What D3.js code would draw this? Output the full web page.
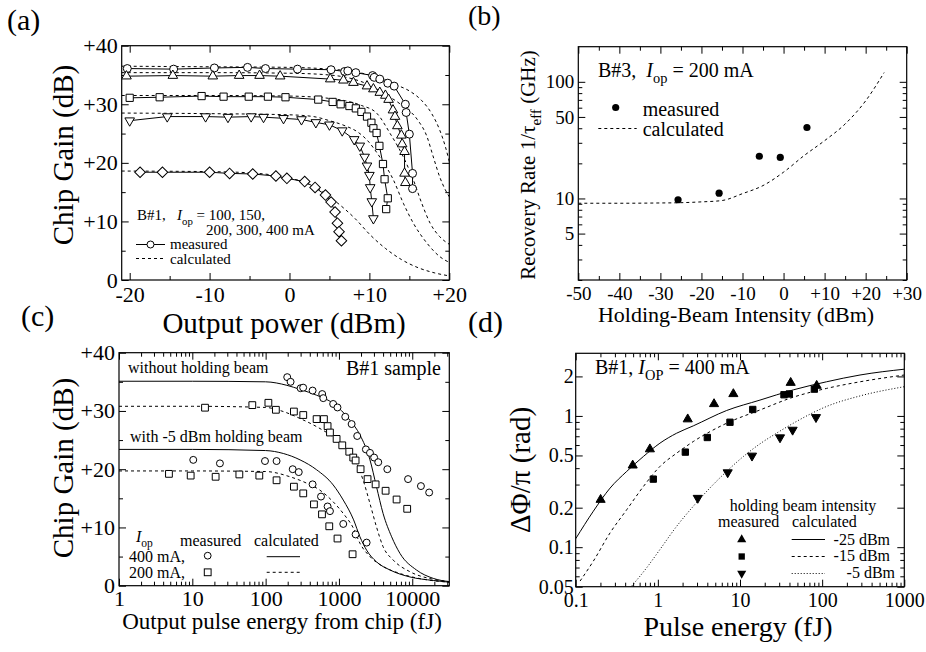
<!DOCTYPE html>
<html>
<head>
<meta charset="utf-8">
<script src="https://cdn.jsdelivr.net/npm/d3@7"></script>
<style>
body { margin: 0; background: #fff; }
svg { font-family: "Liberation Serif", "Times New Roman", serif; }
text { fill: #000; white-space: pre; }
</style>
</head>
<body>
<svg id="fig" width="926" height="652"></svg>
<script>
// ---- (a) chip gain vs output power (dBm -> dB), B#1 at 100..400 mA ----
var aMeas400 = [[-20.3,36.1],[-14.5,36.0],[-9.4,36.2],[-5.25,36.3],[-3.0,36.1],[1.0,36.0],[5.2,35.9],[6.9,35.6],[7.3,35.7],[8.3,35.4],[10.4,34.9],[10.6,34.6],[11.3,34.3],[12.3,33.6],[13.1,33.1],[14.5,30.0],[14.6,28.6],[15.0,24.9],[15.4,18.2],[15.4,15.6]];
var aMeas300 = [[-20.4,34.8],[-14.6,34.9],[-9.6,34.8],[-6.3,34.9],[-3.75,34.9],[-1.17,34.8],[5.1,34.3],[6.75,34.1],[8.0,33.7],[9.7,33.1],[10.5,32.6],[11.3,32.0],[12.0,31.5],[12.4,30.8],[12.95,29.0],[13.2,27.9],[13.5,26.3],[14.0,24.7],[14.1,23.2],[14.4,21.9],[14.4,18.2],[14.5,16.6]];
var aMeas200 = [[-20.0,31.1],[-16.25,31.2],[-11.0,31.4],[-8.25,31.3],[-5.1,31.3],[-2.7,31.3],[-0.5,31.2],[3.6,30.8],[5.4,30.4],[6.4,30.0],[7.5,29.7],[8.3,29.3],[9.0,28.7],[9.7,27.9],[10.25,26.85],[10.5,25.9],[10.9,25.1],[11.25,22.9],[11.7,19.8],[11.9,17.2],[12.3,13.95],[12.1,12.1]];
var aMeas150 = [[-20.0,27.2],[-15.3,27.9],[-10.5,27.9],[-7.7,27.8],[-4.8,27.9],[-3.25,27.8],[-0.75,27.6],[1.5,27.4],[3.3,26.9],[5.0,26.5],[6.6,25.5],[8.1,24.0],[8.8,22.9],[9.4,21.0],[9.7,19.5],[10.0,17.9],[10.1,15.8],[10.3,13.4],[10.5,10.5]];
var aMeas100 = [[-18.7,18.4],[-15.9,18.4],[-10.0,18.4],[-7.5,18.2],[-4.6,18.1],[-1.7,17.75],[-0.33,17.35],[1.9,16.8],[3.2,15.8],[4.5,14.5],[5.2,13.3],[5.7,11.6],[6.0,9.7],[6.2,8.25],[6.5,6.7]];
var aCalc400 = [[-21,36.5],[-10,36.4],[0,36.3],[5,36.0],[8,35.6],[10,35.0],[12,34.2],[13.4,33.3],[15.1,32.2],[16.5,30.7],[17.8,28.4],[18.8,25.6],[19.5,22.8],[20,20.2]];
var aCalc300 = [[-21,35.4],[-10,35.4],[0,35.3],[5,35.0],[8,34.3],[10,33.3],[12,31.7],[14,29.9],[16,27.4],[17.2,24.5],[18,21.0],[18.8,17.6],[19.5,15.4],[20,14.2]];
var aCalc200 = [[-21,31.5],[-10,31.5],[0,31.4],[5,31.0],[7,30.6],[9,29.8],[10.9,28.5],[12.6,25.0],[14.25,21.0],[15.5,17.1],[16.55,13.1],[17.6,9.7],[18.8,7.4],[20,6.1]];
var aCalc150 = [[-21,28.5],[-10,28.4],[0,28.2],[3,27.9],[5,27.2],[7,26.3],[8.5,25.3],[9.7,23.9],[11.3,21.0],[13.0,17.1],[14.25,13.1],[15.5,9.7],[17.2,6.3],[18.8,4.0],[20,3.0]];
var aCalc100 = [[-21,18.6],[-10,18.5],[-5,18.3],[-2,17.9],[0,17.4],[2,16.6],[4,15.2],[5.5,13.7],[8.2,10.5],[10.1,7.7],[12,5.4],[14,3.5],[16.1,2.1],[18.2,1.2],[20,0.7]];

// ---- (b) recovery rate vs holding-beam intensity ----
var bMeasX = [-25.7, -15.7, -5.9, -0.8, 5.7];
var bMeasY = [9.75, 11.1, 23, 22.5, 40.6];
var bCalc = [[-50,9.1],[-40,9.1],[-30,9.15],[-25,9.2],[-20,9.35],[-15,9.6],[-10,11.0],[-5,12.9],[0,16.8],[5,23.3],[10,31.3],[15,43.5],[20,68.7],[24.5,120]];

// ---- (c) chip gain vs output pulse energy (fJ) ----
var cMeas400 = [[197,35.8],[219,35.0],[300,33.9],[325,34.0],[437,33.5],[591,32.9],[611,32.2],[834,31.2],[955,30.6],[1219,29.0],[1489,27.75],[1775,25.7],[2330,23.4],[2650,22.8],[3020,22.0],[3437,21.2],[4568,20.0],[8760,18.3],[13130,17.1],[17000,16.0]];
var cMeas400h = [[10.3,21.6],[23.8,21.0],[98,21.4],[141,21.4],[234,20.0],[283,19.5],[437,17.4],[569,15.3],[700,13.6],[754,12.8],[1145,10.6],[1687,8.8],[2385,7.4]];
var cMeas200 = [[14.9,30.56],[65.8,31.0],[109,31.4],[138,30.2],[243,29.9],[326,29.3],[496,28.6],[624,28.6],[700,27.4],[754,26.3],[929,25.2],[1110,24.1],[1383,23.0],[1567,22.0],[1687,21.5],[1973,20.0],[2456,18.3],[3162,17.4],[4329,16.3],[6113,14.8],[8530,13.2]];
var cMeas200h = [[4.8,19.2],[9.5,18.9],[20.8,18.7],[43.8,19.1],[82,18.9],[141,18.1],[243,17.0],[326,15.85],[456,13.96],[587,12.25],[738,10.2],[956,8.1],[1535,5.4]];
var cCalc400 = [[1,35.1],[10,35.1],[100,35.0],[195,34.4],[295,33.7],[496,32.7],[834,31.3],[1413,28.4],[1932,25.9],[2650,21.6],[3250,17.0],[4000,12.4],[5230,8.4],[6790,5.55],[11400,2.7],[19300,1.26],[32000,0.7]];
var cCalc200 = [[1,30.8],[10,30.8],[100,30.6],[174,29.9],[295,28.7],[496,27.3],[834,25.5],[1260,23.3],[1740,21.0],[2140,18.1],[2650,14.1],[3250,10.1],[4000,6.7],[5500,4.4],[9300,2.4],[19300,1.1],[32000,0.7]];
var cCalc400h = [[1,23.4],[10,23.4],[100,23.2],[174,22.7],[295,21.6],[496,19.9],[834,17.3],[1145,14.7],[1585,11.3],[1932,8.4],[2385,6.1],[3250,4.1],[4960,2.7],[9300,1.5],[19300,0.9],[32000,0.6]];
var cCalc200h = [[1,19.7],[10,19.7],[100,19.6],[215,18.7],[363,17.6],[550,16.4],[834,14.4],[1145,12.4],[1585,9.8],[1932,7.3],[2650,5.0],[4000,3.3],[6790,2.1],[14300,1.1],[32000,0.6]];

// ---- (d) phase shift vs pulse energy ----
var dMeas25 = [[0.201,0.230],[0.494,0.42],[0.80,0.558],[2.31,0.944],[4.83,1.233],[8.3,1.47],[41.4,1.79],[85.8,1.70]];
var dMeas15 = [[0.88,0.330],[2.16,0.53],[4.0,0.685],[7.55,0.895],[14.3,1.12],[34.3,1.45],[39.8,1.47],[80.4,1.60]];
var dMeas5 = [[3.06,0.237],[7.08,0.371],[14.0,0.497],[30.7,0.685],[43.7,0.783],[84.1,0.977]];
var dCalc25 = [[0.1,0.116],[0.164,0.188],[0.262,0.282],[0.418,0.378],[0.667,0.491],[1.06,0.620],[1.69,0.738],[2.70,0.84],[6.88,1.10],[17.5,1.32],[44.6,1.58],[113,1.82],[289,2.05],[1000,2.27]];
var dCalc15 = [[0.113,0.0552],[0.164,0.0783],[0.262,0.1285],[0.418,0.193],[0.667,0.29],[1.06,0.412],[1.69,0.52],[2.70,0.638],[6.88,0.88],[17.5,1.11],[44.6,1.39],[113,1.62],[289,1.82],[1000,2.05]];
var dCalc5 = [[0.481,0.0506],[0.731,0.0697],[1.06,0.096],[1.69,0.144],[2.70,0.205],[4.29,0.282],[6.88,0.378],[11.0,0.491],[17.5,0.613],[27.8,0.738],[44.6,0.88],[113,1.18],[289,1.42],[1000,1.67]];

var svg = d3.select("#fig");
var decades = function(list, muls) {
  var out = [];
  list.forEach(function(d) { muls.forEach(function(m) { out.push(d * m); }); });
  return out;
};
var signed = function(d) { return d > 0 ? "+" + d : d < 0 ? "-" + Math.abs(d) : "0"; };

function panel(id, left, top, x, y) {
  var g = svg.append("g").attr("transform", "translate(" + left + "," + top + ")");
  g.append("clipPath").attr("id", id).append("rect")
    .attr("width", x.range()[1]).attr("height", y.range()[0]);
  return g;
}

function frame(g, x, y, t) {
  var w = x.range()[1], h = y.range()[0];
  function one(axis, tr, vals, len, fmt, fs, pad) {
    var a = g.append("g").attr("transform", tr)
      .call(axis.tickValues(vals).tickSize(-len).tickPadding(pad || 0)
        .tickFormat(fmt || function() { return ""; }));
    a.select(".domain").remove();
    a.attr("font-family", null).attr("font-size", null);
    a.selectAll("line").attr("stroke", "#000");
    a.selectAll("text").attr("font-size", fs).attr("fill", "#000");
  }
  var bot = "translate(0," + h + ")", rgt = "translate(" + w + ",0)";
  one(d3.axisBottom(x), bot, t.xMaj, 7, t.xFmt, t.fs, t.xPad);
  one(d3.axisBottom(x), bot, t.xMin, 4);
  one(d3.axisTop(x), null, t.xMaj, 7);
  one(d3.axisTop(x), null, t.xMin, 4);
  one(d3.axisLeft(y), null, t.yMaj, 7, t.yFmt, t.fs, t.yPad);
  one(d3.axisLeft(y), null, t.yMin, 4);
  one(d3.axisRight(y), rgt, t.yMaj, 7);
  one(d3.axisRight(y), rgt, t.yMin, 4);
  g.append("rect").attr("width", w).attr("height", h)
    .attr("fill", "none").attr("stroke", "#000").attr("stroke-width", 1.2);
}

function curve(g, data, x, y, dash, clip, smooth) {
  var line = d3.line().x(function(d) { return x(d[0]); }).y(function(d) { return y(d[1]); });
  if (smooth) line.curve(d3.curveMonotoneX);
  g.append("path").datum(data).attr("d", line)
    .attr("fill", "none").attr("stroke", "#000").attr("stroke-width", 1)
    .attr("stroke-dasharray", dash || null)
    .attr("clip-path", clip ? "url(#" + clip + ")" : null);
}

function marks(g, data, x, y, type, size, fill, rot) {
  g.selectAll(null).data(data).enter().append("path")
    .attr("d", d3.symbol(type, size))
    .attr("transform", function(d) {
      return "translate(" + x(d[0]) + "," + y(d[1]) + ")" + (rot ? " rotate(" + rot + ")" : "");
    })
    .attr("fill", fill).attr("stroke", "#000").attr("stroke-width", 1);
}

// text with italic / subscript parts
function label(x, y, parts, fs, anchor, rotate) {
  var t = svg.append("text").attr("font-size", fs).attr("text-anchor", anchor || "start");
  if (rotate) t.attr("transform", "translate(" + x + "," + y + ") rotate(-90)");
  else t.attr("x", x).attr("y", y);
  var shift = 0;
  parts.forEach(function(p) {
    var s = t.append("tspan").text(p[0]);
    var want = 0;
    if (p[1] === "i") s.attr("font-style", "italic");
    if (p[1] === "sub") { s.attr("font-size", fs * 0.72); want = fs * 0.3; }
    if (want !== shift) { s.attr("dy", want - shift); shift = want; }
  });
  return t;
}

var DASH = "3,3", DOT = "1,2";

// =================== (a) ===================
var ax = d3.scaleLinear().domain([-21, 20]).range([0, 327.6]);
var ay = d3.scaleLinear().domain([0, 40]).range([234.3, 0]);
var ga = panel("clipA", 121.7, 45.7, ax, ay);
frame(ga, ax, ay, {
  xMaj: [-20, -10, 0, 10, 20], xMin: [-15, -5, 5, 15], xFmt: signed, xPad: 6,
  yMaj: [0, 10, 20, 30, 40], yMin: [5, 15, 25, 35], yFmt: signed, yPad: 4, fs: 22
});
[aCalc400, aCalc300, aCalc200, aCalc150, aCalc100].forEach(function(c) { curve(ga, c, ax, ay, DASH, "clipA", true); });
[aMeas400, aMeas300, aMeas200, aMeas150, aMeas100].forEach(function(c) { curve(ga, c, ax, ay, null, "clipA"); });
marks(ga, aMeas400, ax, ay, d3.symbolCircle, 50, "#fff");
marks(ga, aMeas300, ax, ay, d3.symbolTriangle, 40, "#fff");
marks(ga, aMeas200, ax, ay, d3.symbolSquare, 52, "#fff");
marks(ga, aMeas150, ax, ay, d3.symbolTriangle, 40, "#fff", 180);
marks(ga, aMeas100, ax, ay, d3.symbolSquare, 56, "#fff", 45);

label(7, 30, [["(a)"]], 30);
label(73, 155, [["Chip Gain (dB)"]], 29, "middle", true);
label(284, 333, [["Output power (dBm)"]], 29, "middle");
label(137, 220, [["B#1,   "], ["I", "i"], ["op", "sub"], [" = 100, 150,"]], 15);
label(206, 235, [["200, 300, 400 mA"]], 15);
svg.append("line").attr("x1", 136).attr("x2", 165).attr("y1", 244.5).attr("y2", 244.5).attr("stroke", "#000");
svg.append("circle").attr("cx", 150.5).attr("cy", 244.5).attr("r", 3.5).attr("fill", "#fff").attr("stroke", "#000");
label(170, 249, [["measured"]], 15);
svg.append("line").attr("x1", 136).attr("x2", 165).attr("y1", 258.5).attr("y2", 258.5).attr("stroke", "#000").attr("stroke-dasharray", DASH);
label(170, 264, [["calculated"]], 15);

// =================== (b) ===================
var bx = d3.scaleLinear().domain([-50, 30]).range([0, 328.4]);
var by = d3.scaleLog().domain([2, 200]).range([233.3, 0]);
var gb = panel("clipB", 578.3, 46.7, bx, by);
frame(gb, bx, by, {
  xMaj: d3.range(-50, 31, 10), xMin: d3.range(-45, 30, 10), xFmt: signed, xPad: 7,
  yMaj: [5, 10, 50, 100], yMin: [2, 3, 4, 6, 7, 8, 9, 20, 30, 40, 60, 70, 80, 90],
  yFmt: function(d) { return d; }, yPad: 4, fs: 19
});
curve(gb, bCalc, bx, by, DASH, "clipB", true);
gb.selectAll(null).data(bMeasX).enter().append("circle")
  .attr("cx", function(d) { return bx(d); })
  .attr("cy", function(d, i) { return by(bMeasY[i]); })
  .attr("r", 3.6).attr("fill", "#000");

label(468, 25, [["(b)"]], 28);
label(535, 165, [["Recovery Rate 1/τ"], ["eff", "sub"], [" (GHz)"]], 21, "middle", true);
label(736, 322, [["Holding-Beam Intensity (dBm)"]], 22, "middle");
label(598, 77, [["B#3,  "], ["I", "i"], ["op", "sub"], [" = 200 mA"]], 20);
svg.append("circle").attr("cx", 615.7).attr("cy", 107.5).attr("r", 3.6).attr("fill", "#000");
label(642.7, 116, [["measured"]], 20);
svg.append("line").attr("x1", 598.3).attr("x2", 636.7).attr("y1", 128.5).attr("y2", 128.5).attr("stroke", "#000").attr("stroke-dasharray", DASH);
label(642.7, 136, [["calculated"]], 20);

// =================== (c) ===================
var cx = d3.scaleLog().domain([1, 32000]).range([0, 330.3]);
var cy = d3.scaleLinear().domain([0, 40]).range([233, 0]);
var gc = panel("clipC", 119, 352.7, cx, cy);
frame(gc, cx, cy, {
  xMaj: [1, 10, 100, 1000, 10000], xMin: decades([1, 10, 100, 1000], [2, 3, 4, 5, 6, 7, 8, 9]).concat([20000, 30000]),
  xFmt: function(d) { return d; }, xPad: 5,
  yMaj: [0, 10, 20, 30, 40], yMin: [5, 15, 25, 35], yFmt: signed, yPad: 4, fs: 22
});
curve(gc, cCalc400, cx, cy, null, "clipC", true);
curve(gc, cCalc200, cx, cy, DASH, "clipC", true);
curve(gc, cCalc400h, cx, cy, null, "clipC", true);
curve(gc, cCalc200h, cx, cy, DASH, "clipC", true);
marks(gc, cMeas400, cx, cy, d3.symbolCircle, 38, "#fff");
marks(gc, cMeas400h, cx, cy, d3.symbolCircle, 38, "#fff");
marks(gc, cMeas200, cx, cy, d3.symbolSquare, 46, "#fff");
marks(gc, cMeas200h, cx, cy, d3.symbolSquare, 46, "#fff");

label(21, 326, [["(c)"]], 30);
label(73, 468, [["Chip Gain (dB)"]], 29, "middle", true);
label(282, 629, [["Output pulse energy from chip (fJ)"]], 23, "middle");
label(128, 373, [["without holding beam"]], 16);
label(130, 442, [["with -5 dBm holding beam"]], 16);
label(441, 375, [["B#1 sample"]], 20, "end");
label(136, 542, [["I", "i"], ["op", "sub"]], 16);
label(180, 546, [["measured"]], 16);
label(254, 546, [["calculated"]], 16);
label(129, 562, [["400 mA,"]], 16);
label(129, 578, [["200 mA,"]], 16);
svg.append("circle").attr("cx", 207.7).attr("cy", 555.7).attr("r", 3.4).attr("fill", "#fff").attr("stroke", "#000");
svg.append("rect").attr("x", 204.3).attr("y", 568.9).attr("width", 6.8).attr("height", 6.8).attr("fill", "#fff").attr("stroke", "#000");
svg.append("line").attr("x1", 266.7).attr("x2", 300).attr("y1", 556.7).attr("y2", 556.7).attr("stroke", "#000");
svg.append("line").attr("x1", 266.7).attr("x2", 300).attr("y1", 572.3).attr("y2", 572.3).attr("stroke", "#000").attr("stroke-dasharray", DASH);

// =================== (d) ===================
var dx = d3.scaleLog().domain([0.1, 1000]).range([0, 328.6]);
var dy = d3.scaleLog().domain([0.05, 3]).range([233.4, 0]);
var gd = panel("clipD", 575.7, 353.3, dx, dy);
frame(gd, dx, dy, {
  xMaj: [0.1, 1, 10, 100, 1000], xMin: decades([0.1, 1, 10, 100], [2, 3, 4, 5, 6, 7, 8, 9]),
  xFmt: function(d) { return d; }, xPad: 6,
  yMaj: [0.05, 0.1, 0.2, 0.5, 1, 2], yMin: [0.06, 0.07, 0.08, 0.09, 0.3, 0.4, 0.6, 0.7, 0.8, 0.9],
  yFmt: function(d) { return d; }, yPad: 2, fs: 20
});
curve(gd, dCalc25, dx, dy, null, "clipD", true);
curve(gd, dCalc15, dx, dy, DASH, "clipD", true);
curve(gd, dCalc5, dx, dy, DOT, "clipD", true);
marks(gd, dMeas25, dx, dy, d3.symbolTriangle, 36, "#000");
marks(gd, dMeas15, dx, dy, d3.symbolSquare, 40, "#000");
marks(gd, dMeas5, dx, dy, d3.symbolTriangle, 36, "#000", 180);

label(468, 332, [["(d)"]], 30);
label(530, 470, [["ΔΦ/π (rad)"]], 29, "middle", true);
label(738, 636, [["Pulse energy (fJ)"]], 28, "middle");
label(595, 374, [["B#1, "], ["I", "i"], ["OP", "sub"], [" = 400 mA"]], 20);
label(803, 511, [["holding beam intensity"]], 16, "middle");
label(718, 527, [["measured"]], 16);
label(792, 527, [["calculated"]], 16);
var legY = [539.5, 556.5, 573.5];
[[d3.symbolTriangle, 36, 0], [d3.symbolSquare, 40, 0], [d3.symbolTriangle, 36, 180]].forEach(function(s, i) {
  svg.append("path").attr("d", d3.symbol(s[0], s[1]))
    .attr("transform", "translate(741.7," + legY[i] + ") rotate(" + s[2] + ")").attr("fill", "#000");
});
[null, DASH, DOT].forEach(function(dsh, i) {
  svg.append("line").attr("x1", 791.7).attr("x2", 825).attr("y1", legY[i]).attr("y2", legY[i])
    .attr("stroke", "#000").attr("stroke-dasharray", dsh);
});
label(890, 545, [["-25 dBm"]], 16, "end");
label(890, 561, [["-15 dBm"]], 16, "end");
label(895, 578, [["-5 dBm"]], 16, "end");
</script>
</body>
</html>
